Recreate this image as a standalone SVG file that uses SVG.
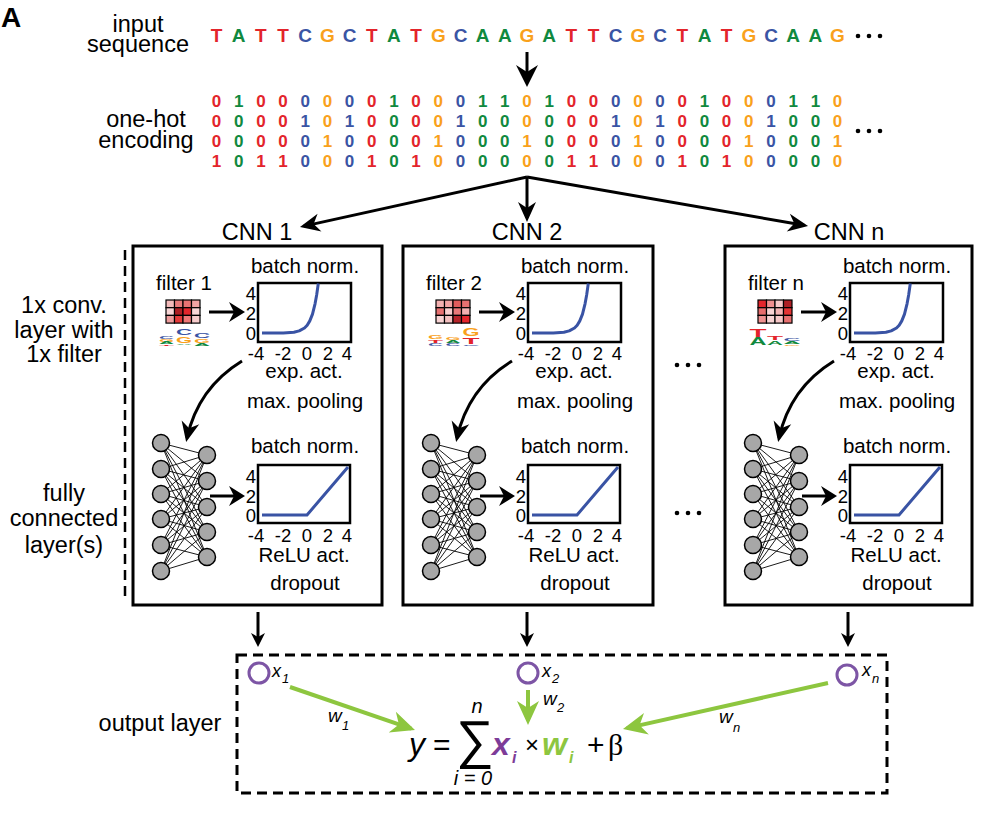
<svg xmlns="http://www.w3.org/2000/svg" xmlns:xlink="http://www.w3.org/1999/xlink" width="985" height="819" viewBox="0 0 985 819">
<style>
text{font-family:"Liberation Sans",Arial,sans-serif;fill:#000}
.lbl{font-size:23.5px;text-anchor:middle}
.s{font-size:20.5px;text-anchor:middle}
.tk{font-size:18.5px;text-anchor:middle}
.seq{font-size:19px;font-weight:bold;text-anchor:middle}
.oh{font-size:17px;font-weight:bold;text-anchor:middle}
.lg{font-weight:bold;text-anchor:middle}
.R{fill:#e3242b}.A{fill:#10893e}.C{fill:#3a54a4}.G{fill:#f9a11b}
.box{fill:none;stroke:#000;stroke-width:3}
.dash{fill:none;stroke:#000;stroke-width:3;stroke-dasharray:10 6}
.plot{fill:#fff;stroke:#000;stroke-width:2.5}
.curve{fill:none;stroke:#3953a4;stroke-width:3;stroke-linejoin:round}
.ar{stroke:#000;stroke-width:3;fill:none}
.gar{stroke:#8dc63f;stroke-width:4;fill:none}
.nd{fill:#a7a7a7;stroke:#000;stroke-width:1.5}
.ed{stroke:#000;stroke-width:0.9;fill:none}
.cell{stroke:#000;stroke-width:1.2}
.xc{fill:none;stroke:#7d55a5;stroke-width:3}
.it{font-style:italic}
.dot{fill:#000}
.pu{fill:#7d3c98}.gr{fill:#8dc63f}
</style>
<defs>
<marker id="mBig" viewBox="-23 -12 24 24" markerWidth="24" markerHeight="24" refX="-4" refY="0" orient="auto" markerUnits="userSpaceOnUse"><path d="M0,0 L-22,-11 L-15,0 L-22,11 Z" fill="#000"/></marker>
<marker id="mMed" viewBox="-21 -10 22 20" markerWidth="22" markerHeight="20" refX="-4" refY="0" orient="auto" markerUnits="userSpaceOnUse"><path d="M0,0 L-20,-9 L-14,0 L-20,9 Z" fill="#000"/></marker>
<marker id="mF" viewBox="-17 -11 18 22" markerWidth="18" markerHeight="22" refX="-4" refY="0" orient="auto" markerUnits="userSpaceOnUse"><path d="M0,0 L-16,-10 L-11,0 L-16,10 Z" fill="#000"/></marker>
<marker id="mSm" viewBox="-15 -8 16 16" markerWidth="16" markerHeight="16" refX="-4" refY="0" orient="auto" markerUnits="userSpaceOnUse"><path d="M0,0 L-14,-7 L-10,0 L-14,7 Z" fill="#000"/></marker>
<marker id="mG" viewBox="-25 -12 26 24" markerWidth="26" markerHeight="24" refX="-4" refY="0" orient="auto" markerUnits="userSpaceOnUse"><path d="M0,0 L-24,-11 L-17,0 L-24,11 Z" fill="#8dc63f"/></marker>
<g id="expPlot">
<text class="s" x="305" y="273">batch norm.</text>
<rect class="plot" x="258" y="283" width="93" height="59"/>
<polyline class="curve" points="262,333 272.6,333 283.3,332.9 293.9,332.2 299.2,330.9 304.5,328 307.2,325.2 309.8,320.9 312.5,314.1 315.1,303.6 316.7,294.7 318.3,283.5"/>
<text class="tk" x="251" y="300">4</text><text class="tk" x="251" y="320">2</text><text class="tk" x="251" y="340">0</text>
<text class="tk" x="256" y="360">-4</text><text class="tk" x="283" y="360">-2</text><text class="tk" x="307" y="360">0</text><text class="tk" x="328" y="360">2</text><text class="tk" x="347" y="360">4</text>
<text class="s" x="304" y="378">exp. act.</text>
<text class="s" x="305" y="408">max. pooling</text>
</g>
<g id="reluPlot">
<text class="s" x="305" y="453">batch norm.</text>
<rect class="plot" x="258" y="465" width="92" height="58"/>
<polyline class="curve" points="262,515 307,515 348,467"/>
<text class="tk" x="251" y="483">4</text><text class="tk" x="251" y="503">2</text><text class="tk" x="251" y="522">0</text>
<text class="tk" x="256" y="542">-4</text><text class="tk" x="283" y="542">-2</text><text class="tk" x="307" y="542">0</text><text class="tk" x="328" y="542">2</text><text class="tk" x="347" y="542">4</text>
<text class="s" x="304" y="562">ReLU act.</text>
<text class="s" x="305" y="590">dropout</text>
</g>
<g id="net">
<path class="ed" d="M161 443L207 455M161 443L207 481M161 443L207 507M161 443L207 532M161 443L207 557M161 469L207 455M161 469L207 481M161 469L207 507M161 469L207 532M161 469L207 557M161 494L207 455M161 494L207 481M161 494L207 507M161 494L207 532M161 494L207 557M161 519L207 455M161 519L207 481M161 519L207 507M161 519L207 532M161 519L207 557M161 545L207 455M161 545L207 481M161 545L207 507M161 545L207 532M161 545L207 557M161 571L207 455M161 571L207 481M161 571L207 507M161 571L207 532M161 571L207 557"/>
<circle class="nd" cx="161" cy="443" r="8.5"/><circle class="nd" cx="161" cy="469" r="8.5"/><circle class="nd" cx="161" cy="494" r="8.5"/><circle class="nd" cx="161" cy="519" r="8.5"/><circle class="nd" cx="161" cy="545" r="8.5"/><circle class="nd" cx="161" cy="571" r="8.5"/>
<circle class="nd" cx="207" cy="455" r="8.5"/><circle class="nd" cx="207" cy="481" r="8.5"/><circle class="nd" cx="207" cy="507" r="8.5"/><circle class="nd" cx="207" cy="532" r="8.5"/><circle class="nd" cx="207" cy="557" r="8.5"/>
</g>
</defs>
<rect width="985" height="819" fill="#fff"/>

<g id="labels">
<text x="1" y="27" style="font-size:28px;font-weight:bold">A</text>
<text class="lbl" x="138" y="32">input</text>
<text class="lbl" x="138" y="52">sequence</text>
<text class="lbl" x="146" y="127">one-hot</text>
<text class="lbl" x="146" y="148">encoding</text>
<text class="lbl" x="64" y="313">1x conv.</text>
<text class="lbl" x="64" y="338">layer with</text>
<text class="lbl" x="64" y="362">1x filter</text>
<text class="lbl" x="64" y="501">fully</text>
<text class="lbl" x="64" y="526">connected</text>
<text class="lbl" x="64" y="553">layer(s)</text>
<text class="lbl" x="160" y="731">output layer</text>
<line x1="125" y1="250" x2="125" y2="602" class="dash" style="stroke-width:2.5"/>
</g>

<g id="node-sequence">
<text class="seq R" x="216.5" y="42">T</text><text class="seq A" x="238.7" y="42">A</text><text class="seq R" x="260.9" y="42">T</text><text class="seq R" x="283" y="42">T</text><text class="seq C" x="305.2" y="42">C</text><text class="seq G" x="327.4" y="42">G</text><text class="seq C" x="349.6" y="42">C</text><text class="seq R" x="371.8" y="42">T</text><text class="seq A" x="393.9" y="42">A</text><text class="seq R" x="416.1" y="42">T</text><text class="seq G" x="438.3" y="42">G</text><text class="seq C" x="460.5" y="42">C</text><text class="seq A" x="482.7" y="42">A</text><text class="seq A" x="504.8" y="42">A</text><text class="seq G" x="527" y="42">G</text><text class="seq A" x="549.2" y="42">A</text><text class="seq R" x="571.4" y="42">T</text><text class="seq R" x="593.6" y="42">T</text><text class="seq C" x="615.7" y="42">C</text><text class="seq G" x="637.9" y="42">G</text><text class="seq C" x="660.1" y="42">C</text><text class="seq R" x="682.3" y="42">T</text><text class="seq A" x="704.5" y="42">A</text><text class="seq R" x="726.6" y="42">T</text><text class="seq G" x="748.8" y="42">G</text><text class="seq C" x="771" y="42">C</text><text class="seq A" x="793.2" y="42">A</text><text class="seq A" x="815.4" y="42">A</text><text class="seq G" x="837.5" y="42">G</text>
<circle class="dot" cx="858" cy="36" r="2.3"/><circle class="dot" cx="869" cy="36" r="2.3"/><circle class="dot" cx="880" cy="36" r="2.3"/>
</g>

<g id="node-onehot">
<text class="oh R" x="216.5" y="107">0</text><text class="oh A" x="238.7" y="107">1</text><text class="oh R" x="260.9" y="107">0</text><text class="oh R" x="283" y="107">0</text><text class="oh C" x="305.2" y="107">0</text><text class="oh G" x="327.4" y="107">0</text><text class="oh C" x="349.6" y="107">0</text><text class="oh R" x="371.8" y="107">0</text><text class="oh A" x="393.9" y="107">1</text><text class="oh R" x="416.1" y="107">0</text><text class="oh G" x="438.3" y="107">0</text><text class="oh C" x="460.5" y="107">0</text><text class="oh A" x="482.7" y="107">1</text><text class="oh A" x="504.8" y="107">1</text><text class="oh G" x="527" y="107">0</text><text class="oh A" x="549.2" y="107">1</text><text class="oh R" x="571.4" y="107">0</text><text class="oh R" x="593.6" y="107">0</text><text class="oh C" x="615.7" y="107">0</text><text class="oh G" x="637.9" y="107">0</text><text class="oh C" x="660.1" y="107">0</text><text class="oh R" x="682.3" y="107">0</text><text class="oh A" x="704.5" y="107">1</text><text class="oh R" x="726.6" y="107">0</text><text class="oh G" x="748.8" y="107">0</text><text class="oh C" x="771" y="107">0</text><text class="oh A" x="793.2" y="107">1</text><text class="oh A" x="815.4" y="107">1</text><text class="oh G" x="837.5" y="107">0</text>
<text class="oh R" x="216.5" y="127">0</text><text class="oh A" x="238.7" y="127">0</text><text class="oh R" x="260.9" y="127">0</text><text class="oh R" x="283" y="127">0</text><text class="oh C" x="305.2" y="127">1</text><text class="oh G" x="327.4" y="127">0</text><text class="oh C" x="349.6" y="127">1</text><text class="oh R" x="371.8" y="127">0</text><text class="oh A" x="393.9" y="127">0</text><text class="oh R" x="416.1" y="127">0</text><text class="oh G" x="438.3" y="127">0</text><text class="oh C" x="460.5" y="127">1</text><text class="oh A" x="482.7" y="127">0</text><text class="oh A" x="504.8" y="127">0</text><text class="oh G" x="527" y="127">0</text><text class="oh A" x="549.2" y="127">0</text><text class="oh R" x="571.4" y="127">0</text><text class="oh R" x="593.6" y="127">0</text><text class="oh C" x="615.7" y="127">1</text><text class="oh G" x="637.9" y="127">0</text><text class="oh C" x="660.1" y="127">1</text><text class="oh R" x="682.3" y="127">0</text><text class="oh A" x="704.5" y="127">0</text><text class="oh R" x="726.6" y="127">0</text><text class="oh G" x="748.8" y="127">0</text><text class="oh C" x="771" y="127">1</text><text class="oh A" x="793.2" y="127">0</text><text class="oh A" x="815.4" y="127">0</text><text class="oh G" x="837.5" y="127">0</text>
<text class="oh R" x="216.5" y="147">0</text><text class="oh A" x="238.7" y="147">0</text><text class="oh R" x="260.9" y="147">0</text><text class="oh R" x="283" y="147">0</text><text class="oh C" x="305.2" y="147">0</text><text class="oh G" x="327.4" y="147">1</text><text class="oh C" x="349.6" y="147">0</text><text class="oh R" x="371.8" y="147">0</text><text class="oh A" x="393.9" y="147">0</text><text class="oh R" x="416.1" y="147">0</text><text class="oh G" x="438.3" y="147">1</text><text class="oh C" x="460.5" y="147">0</text><text class="oh A" x="482.7" y="147">0</text><text class="oh A" x="504.8" y="147">0</text><text class="oh G" x="527" y="147">1</text><text class="oh A" x="549.2" y="147">0</text><text class="oh R" x="571.4" y="147">0</text><text class="oh R" x="593.6" y="147">0</text><text class="oh C" x="615.7" y="147">0</text><text class="oh G" x="637.9" y="147">1</text><text class="oh C" x="660.1" y="147">0</text><text class="oh R" x="682.3" y="147">0</text><text class="oh A" x="704.5" y="147">0</text><text class="oh R" x="726.6" y="147">0</text><text class="oh G" x="748.8" y="147">1</text><text class="oh C" x="771" y="147">0</text><text class="oh A" x="793.2" y="147">0</text><text class="oh A" x="815.4" y="147">0</text><text class="oh G" x="837.5" y="147">1</text>
<text class="oh R" x="216.5" y="167">1</text><text class="oh A" x="238.7" y="167">0</text><text class="oh R" x="260.9" y="167">1</text><text class="oh R" x="283" y="167">1</text><text class="oh C" x="305.2" y="167">0</text><text class="oh G" x="327.4" y="167">0</text><text class="oh C" x="349.6" y="167">0</text><text class="oh R" x="371.8" y="167">1</text><text class="oh A" x="393.9" y="167">0</text><text class="oh R" x="416.1" y="167">1</text><text class="oh G" x="438.3" y="167">0</text><text class="oh C" x="460.5" y="167">0</text><text class="oh A" x="482.7" y="167">0</text><text class="oh A" x="504.8" y="167">0</text><text class="oh G" x="527" y="167">0</text><text class="oh A" x="549.2" y="167">0</text><text class="oh R" x="571.4" y="167">1</text><text class="oh R" x="593.6" y="167">1</text><text class="oh C" x="615.7" y="167">0</text><text class="oh G" x="637.9" y="167">0</text><text class="oh C" x="660.1" y="167">0</text><text class="oh R" x="682.3" y="167">1</text><text class="oh A" x="704.5" y="167">0</text><text class="oh R" x="726.6" y="167">1</text><text class="oh G" x="748.8" y="167">0</text><text class="oh C" x="771" y="167">0</text><text class="oh A" x="793.2" y="167">0</text><text class="oh A" x="815.4" y="167">0</text><text class="oh G" x="837.5" y="167">0</text>
<circle class="dot" cx="858" cy="131" r="2.3"/><circle class="dot" cx="869" cy="131" r="2.3"/><circle class="dot" cx="880" cy="131" r="2.3"/>
</g>

<g id="cnn1">
<text class="lbl" x="257" y="240">CNN 1</text>
<rect class="box" x="133" y="246" width="249" height="359"/>
<text class="s" x="184" y="290">filter 1</text>
<g class="cell">
<rect x="166" y="300" width="8.5" height="7.7" fill="#f3baba"/><rect x="174.5" y="300" width="8.5" height="7.7" fill="#e77a7a"/><rect x="183" y="300" width="8.5" height="7.7" fill="#e77272"/><rect x="191.5" y="300" width="8.5" height="7.7" fill="#f1a4a4"/>
<rect x="166" y="307.7" width="8.5" height="7.7" fill="#f8d6d6"/><rect x="174.5" y="307.7" width="8.5" height="7.7" fill="#ae1f24"/><rect x="183" y="307.7" width="8.5" height="7.7" fill="#e2252b"/><rect x="191.5" y="307.7" width="8.5" height="7.7" fill="#f8d6d6"/>
<rect x="166" y="315.4" width="8.5" height="7.7" fill="#ee9c9c"/><rect x="174.5" y="315.4" width="8.5" height="7.7" fill="#e53a3a"/><rect x="183" y="315.4" width="8.5" height="7.7" fill="#ef7777"/><rect x="191.5" y="315.4" width="8.5" height="7.7" fill="#f7cccc"/>
</g>
<g class="lg">
<text class="C" x="166.5" y="339" font-size="3" textLength="15" lengthAdjust="spacingAndGlyphs">C</text>
<text class="G" x="166.5" y="341.5" font-size="3" textLength="15" lengthAdjust="spacingAndGlyphs">G</text>
<text class="A" x="166.5" y="343.5" font-size="3" textLength="15" lengthAdjust="spacingAndGlyphs">A</text>
<text class="R" x="166.5" y="345.5" font-size="2.5" textLength="15" lengthAdjust="spacingAndGlyphs">T</text>
<text class="C" x="184" y="335" font-size="9.8" textLength="16" lengthAdjust="spacingAndGlyphs">C</text>
<text class="G" x="184" y="342.5" font-size="9.8" textLength="16" lengthAdjust="spacingAndGlyphs">G</text>
<text class="A" x="184" y="345" font-size="2.5" textLength="16" lengthAdjust="spacingAndGlyphs">A</text>
<text class="C" x="202" y="338" font-size="7" textLength="16" lengthAdjust="spacingAndGlyphs">C</text>
<text class="G" x="202" y="342.5" font-size="5.6" textLength="16" lengthAdjust="spacingAndGlyphs">G</text>
<text class="A" x="202" y="345.5" font-size="3" textLength="16" lengthAdjust="spacingAndGlyphs">A</text>
</g>
<use xlink:href="#expPlot"/>
<use xlink:href="#net"/>
<use xlink:href="#reluPlot"/>
</g>

<g id="cnn2">
<text class="lbl" x="527" y="240">CNN 2</text>
<rect class="box" x="403" y="246" width="250" height="359"/>
<text class="s" x="454" y="290">filter 2</text>
<g class="cell">
<rect x="436" y="300" width="8.5" height="7.7" fill="#f3b0b0"/><rect x="444.5" y="300" width="8.5" height="7.7" fill="#f2a3a3"/><rect x="453" y="300" width="8.5" height="7.7" fill="#e15c5c"/><rect x="461.5" y="300" width="8.5" height="7.7" fill="#e77070"/>
<rect x="436" y="307.7" width="8.5" height="7.7" fill="#e77070"/><rect x="444.5" y="307.7" width="8.5" height="7.7" fill="#f8cfcf"/><rect x="453" y="307.7" width="8.5" height="7.7" fill="#e87a7a"/><rect x="461.5" y="307.7" width="8.5" height="7.7" fill="#f3b0b0"/>
<rect x="436" y="315.4" width="8.5" height="7.7" fill="#f8d3d3"/><rect x="444.5" y="315.4" width="8.5" height="7.7" fill="#f3c0c0"/><rect x="453" y="315.4" width="8.5" height="7.7" fill="#b5242a"/><rect x="461.5" y="315.4" width="8.5" height="7.7" fill="#e4262c"/>
</g>
<g class="lg">
<text class="G" x="435.5" y="339" font-size="5.6" textLength="15" lengthAdjust="spacingAndGlyphs">G</text>
<text class="R" x="435.5" y="342.5" font-size="4.2" textLength="15" lengthAdjust="spacingAndGlyphs">T</text>
<text class="C" x="435.5" y="345.5" font-size="3" textLength="15" lengthAdjust="spacingAndGlyphs">C</text>
<text class="G" x="453" y="340" font-size="3" textLength="15" lengthAdjust="spacingAndGlyphs">G</text>
<text class="A" x="453" y="342.5" font-size="3" textLength="15" lengthAdjust="spacingAndGlyphs">A</text>
<text class="C" x="453" y="345.5" font-size="3" textLength="15" lengthAdjust="spacingAndGlyphs">C</text>
<text class="G" x="471" y="336" font-size="11" textLength="17" lengthAdjust="spacingAndGlyphs">G</text>
<text class="R" x="471" y="343.5" font-size="9.8" textLength="17" lengthAdjust="spacingAndGlyphs">T</text>
<text class="C" x="471" y="345.8" font-size="2.5" textLength="17" lengthAdjust="spacingAndGlyphs">C</text>
</g>
<g transform="translate(270,0)">
<use xlink:href="#expPlot"/>
<use xlink:href="#net"/>
<use xlink:href="#reluPlot"/>
</g>
</g>

<g id="cnnn">
<text class="lbl" x="849" y="240">CNN n</text>
<rect class="box" x="725" y="246" width="247" height="359"/>
<text class="s" x="776" y="290">filter n</text>
<g class="cell">
<rect x="758" y="300" width="8.5" height="7.7" fill="#e2252b"/><rect x="766.5" y="300" width="8.5" height="7.7" fill="#ef8f8f"/><rect x="775" y="300" width="8.5" height="7.7" fill="#f7c8c8"/><rect x="783.5" y="300" width="8.5" height="7.7" fill="#ae1f24"/>
<rect x="758" y="307.7" width="8.5" height="7.7" fill="#e76c6c"/><rect x="766.5" y="307.7" width="8.5" height="7.7" fill="#f8d3d3"/><rect x="775" y="307.7" width="8.5" height="7.7" fill="#f3b3b3"/><rect x="783.5" y="307.7" width="8.5" height="7.7" fill="#e43434"/>
<rect x="758" y="315.4" width="8.5" height="7.7" fill="#ef9090"/><rect x="766.5" y="315.4" width="8.5" height="7.7" fill="#f8d3d3"/><rect x="775" y="315.4" width="8.5" height="7.7" fill="#f7c8c8"/><rect x="783.5" y="315.4" width="8.5" height="7.7" fill="#e77070"/>
</g>
<g class="lg">
<text class="R" x="758" y="336.5" font-size="11" textLength="17" lengthAdjust="spacingAndGlyphs">T</text>
<text class="A" x="758" y="345" font-size="11" textLength="17" lengthAdjust="spacingAndGlyphs">A</text>
<text class="R" x="775" y="340" font-size="5.6" textLength="16" lengthAdjust="spacingAndGlyphs">T</text>
<text class="A" x="775" y="344.5" font-size="5.6" textLength="16" lengthAdjust="spacingAndGlyphs">A</text>
<text class="C" x="792" y="341" font-size="3" textLength="17" lengthAdjust="spacingAndGlyphs">C</text>
<text class="A" x="792" y="343.5" font-size="3" textLength="17" lengthAdjust="spacingAndGlyphs">A</text>
<text class="G" x="792" y="345.8" font-size="2.5" textLength="17" lengthAdjust="spacingAndGlyphs">G</text>
</g>
<g transform="translate(592,0)">
<use xlink:href="#expPlot"/>
<use xlink:href="#net"/>
<use xlink:href="#reluPlot"/>
</g>
</g>

<g id="ellipses">
<circle class="dot" cx="677" cy="365" r="2.3"/><circle class="dot" cx="688" cy="365" r="2.3"/><circle class="dot" cx="699" cy="365" r="2.3"/>
<circle class="dot" cx="677" cy="513" r="2.3"/><circle class="dot" cx="688" cy="513" r="2.3"/><circle class="dot" cx="699" cy="513" r="2.3"/>
</g>

<g id="output">
<rect class="dash" x="237" y="655" width="650" height="138"/>
<circle class="xc" cx="259" cy="673" r="10"/>
<circle class="xc" cx="528" cy="673" r="10"/>
<circle class="xc" cx="847" cy="675" r="10"/>
<text class="it" x="272" y="677" font-size="18">x</text><text class="it" x="282" y="683" font-size="13">1</text>
<text class="it" x="542" y="677" font-size="18">x</text><text class="it" x="552" y="683" font-size="13">2</text>
<text class="it" x="862" y="676" font-size="18">x</text><text class="it" x="872" y="683" font-size="13">n</text>
<text class="it" x="328" y="722" font-size="19">w</text><text class="it" x="342" y="730" font-size="13">1</text>
<text class="it" x="543" y="705" font-size="19">w</text><text class="it" x="557" y="712" font-size="13">2</text>
<text class="it" x="719" y="723" font-size="19">w</text><text class="it" x="733" y="732" font-size="13">n</text>
<text class="it" x="409" y="755" font-size="32">y</text>
<text x="433" y="755" font-size="30">=</text>
<text x="456" y="758" font-size="53">∑</text>
<text class="it" x="477" y="713" font-size="20" text-anchor="middle">n</text>
<text class="it" x="473" y="785" font-size="20" text-anchor="middle">i = 0</text>
<text class="it pu" x="492" y="755" font-size="32" font-weight="bold">x</text>
<text class="it pu" x="512" y="763" font-size="16" font-weight="bold">i</text>
<text x="525" y="753" font-size="24">×</text>
<text class="it gr" x="542" y="755" font-size="32" font-weight="bold">w</text>
<text class="it gr" x="569" y="763" font-size="16" font-weight="bold">i</text>
<text x="587" y="755" font-size="30">+</text>
<text x="608" y="755" font-size="30" style="font-family:'Liberation Serif','Times New Roman',serif">β</text>
</g>

<g id="connectors">
<line class="ar" x1="527" y1="52" x2="527" y2="83" marker-end="url(#mBig)"/>
<line class="ar" x1="527" y1="177" x2="303.9" y2="226.1" marker-end="url(#mMed)"/>
<line class="ar" x1="527" y1="177" x2="527" y2="218" marker-end="url(#mMed)"/>
<line class="ar" x1="527" y1="177" x2="804.1" y2="225.3" marker-end="url(#mMed)"/>
<line class="ar" x1="209" y1="312" x2="241" y2="312" marker-end="url(#mF)"/>
<line class="ar" x1="479" y1="312" x2="511" y2="312" marker-end="url(#mF)"/>
<line class="ar" x1="801" y1="312" x2="833" y2="312" marker-end="url(#mF)"/>
<path class="ar" d="M242,361 Q198,388 187,438" marker-end="url(#mMed)"/>
<path class="ar" d="M512,361 Q468,388 457,438" marker-end="url(#mMed)"/>
<path class="ar" d="M834,361 Q790,388 779,438" marker-end="url(#mMed)"/>
<line class="ar" x1="210" y1="496" x2="241" y2="496" marker-end="url(#mF)"/>
<line class="ar" x1="480" y1="496" x2="511" y2="496" marker-end="url(#mF)"/>
<line class="ar" x1="802" y1="496" x2="833" y2="496" marker-end="url(#mF)"/>
<line class="ar" x1="258" y1="612" x2="258" y2="643" marker-end="url(#mSm)"/>
<line class="ar" x1="527" y1="612" x2="527" y2="643" marker-end="url(#mSm)"/>
<line class="ar" x1="848" y1="612" x2="848" y2="643" marker-end="url(#mSm)"/>
<line class="gar" x1="290" y1="687" x2="411.2" y2="728.7" marker-end="url(#mG)"/>
<line class="gar" x1="528" y1="690" x2="528" y2="721" marker-end="url(#mG)"/>
<line class="gar" x1="828" y1="683" x2="626.9" y2="728.1" marker-end="url(#mG)"/>
</g>
</svg>
